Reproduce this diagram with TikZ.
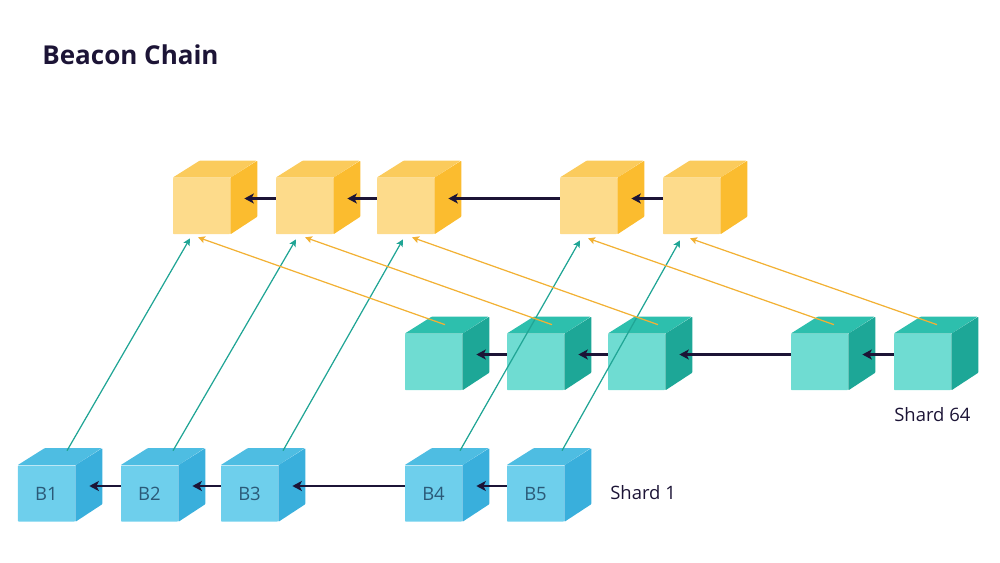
\documentclass[tikz,border=0pt]{standalone}
\usepackage{fontspec}
\setmainfont{Open Sans}
\usetikzlibrary{arrows.meta,calc}

\definecolor{fronty}{HTML}{FDDB8B}
\definecolor{topy}{HTML}{FBCB5C}
\definecolor{sidey}{HTML}{FBBC2F}
\definecolor{frontt}{HTML}{6FDCD2}
\definecolor{topt}{HTML}{2DBFAD}
\definecolor{sidet}{HTML}{1DA797}
\definecolor{frontb}{HTML}{6ECFEC}
\definecolor{topb}{HTML}{4EBDE2}
\definecolor{sideb}{HTML}{39AFDC}
\definecolor{navy}{HTML}{1C1436}
\definecolor{lbl}{HTML}{2B5A78}
\definecolor{linkteal}{HTML}{20A595}
\definecolor{linkorange}{HTML}{F2B134}

\begin{document}
\begin{tikzpicture}[
    x=0.2mm, y=-0.2mm,
    cube/.style={
        rectangle,
        rounded corners=0.4pt,
        minimum width=11.4mm,
        minimum height=11.2mm,
        inner sep=0pt,
        font=\fontsize{10.5}{12}\selectfont,
        text=lbl
    },
    chain/.style={
        draw=navy,
        line width=1.3pt,
        -{Stealth[length=1.9mm,width=2mm,inset=0.5mm]}
    },
    link/.style={
        line width=0.7pt,
        -{Stealth[length=1.4mm,width=1.4mm,inset=0.3mm]}
    },
    label/.style={
        anchor=base west,
        inner sep=0pt,
        font=\fontsize{10.5}{13}\selectfont,
        text=navy
    }
]
\useasboundingbox (0,0) rectangle (1000,562);

\node[anchor=base west, inner sep=0pt, font=\fontsize{14.8}{17}\selectfont\bfseries, text=navy] (title) at (42,64) {Beacon Chain};

% beacon blocks
\node[cube, fill=fronty] (y1) at (201.5,206) {};
\node[cube, fill=fronty] (y2) at (304.5,206) {};
\node[cube, fill=fronty] (y3) at (405.5,206) {};
\node[cube, fill=fronty] (y4) at (588.5,206) {};
\node[cube, fill=fronty] (y5) at (691.5,206) {};

% shard 64
\node[cube, fill=frontt] (t1) at (433.5,362) {};
\node[cube, fill=frontt] (t2) at (535.5,362) {};
\node[cube, fill=frontt] (t3) at (636.5,362) {};
\node[cube, fill=frontt] (t4) at (819.5,362) {};
\node[cube, fill=frontt] (t5) at (922.5,362) {};

% shard 1
\node[cube, fill=frontb] (b1) at (46.5,493.5) {B1};
\node[cube, fill=frontb] (b2) at (149.5,493.5) {B2};
\node[cube, fill=frontb] (b3) at (249.5,493.5) {B3};
\node[cube, fill=frontb] (b4) at (433.5,493.5) {B4};
\node[cube, fill=frontb] (b5) at (535.5,493.5) {B5};

% top and side faces
\foreach \f in {y,t,b} {
    \foreach \i in {1,...,5} {
        \fill[top\f, rounded corners=0.4pt] (\f\i.north west) -- ++(27,-17) -- ++(57,0) -- (\f\i.north east) -- cycle;
        \fill[side\f, rounded corners=0.4pt] (\f\i.north east) -- ++(27,-17) -- ++(0,56) -- (\f\i.south east) -- cycle;
    }
}

\node[label] (shard64) at (894,421) {Shard 64};
\node[label] (shard1) at (610,499) {Shard 1};

% chains
\foreach \f in {y,t,b} {
    \foreach \a/\b in {2/1,3/2,4/3,5/4} {
        \draw[chain] ($(\f\a.west)+(0,-7.5)$) -- ($(\f\b.east)+(14,-7.5)$);
    }
}

% crosslinks to the beacon chain
\foreach \i/\sx/\ex/\ey in {1/20.5/-11.5/4, 2/23.5/-8.5/5, 3/33.5/-2.5/5, 4/26.5/-8.5/6, 5/26.5/-11.5/6} {
    \draw[link, draw=linkteal, color=linkteal] ($(b\i.north)+(\sx,-14.5)$) -- ($(y\i.south)+(\ex,\ey)$);
}
\foreach \i/\sx/\ex/\ey in {1/11.5/-3.5/3, 2/16.5/0.5/3, 3/21.5/6.5/3, 4/14.5/-0.5/4, 5/14.5/-1.5/4} {
    \draw[link, draw=linkorange, color=linkorange] ($(t\i.north)+(\sx,-9)$) -- ($(y\i.south)+(\ex,\ey)$);
}

\end{tikzpicture}
\end{document}
